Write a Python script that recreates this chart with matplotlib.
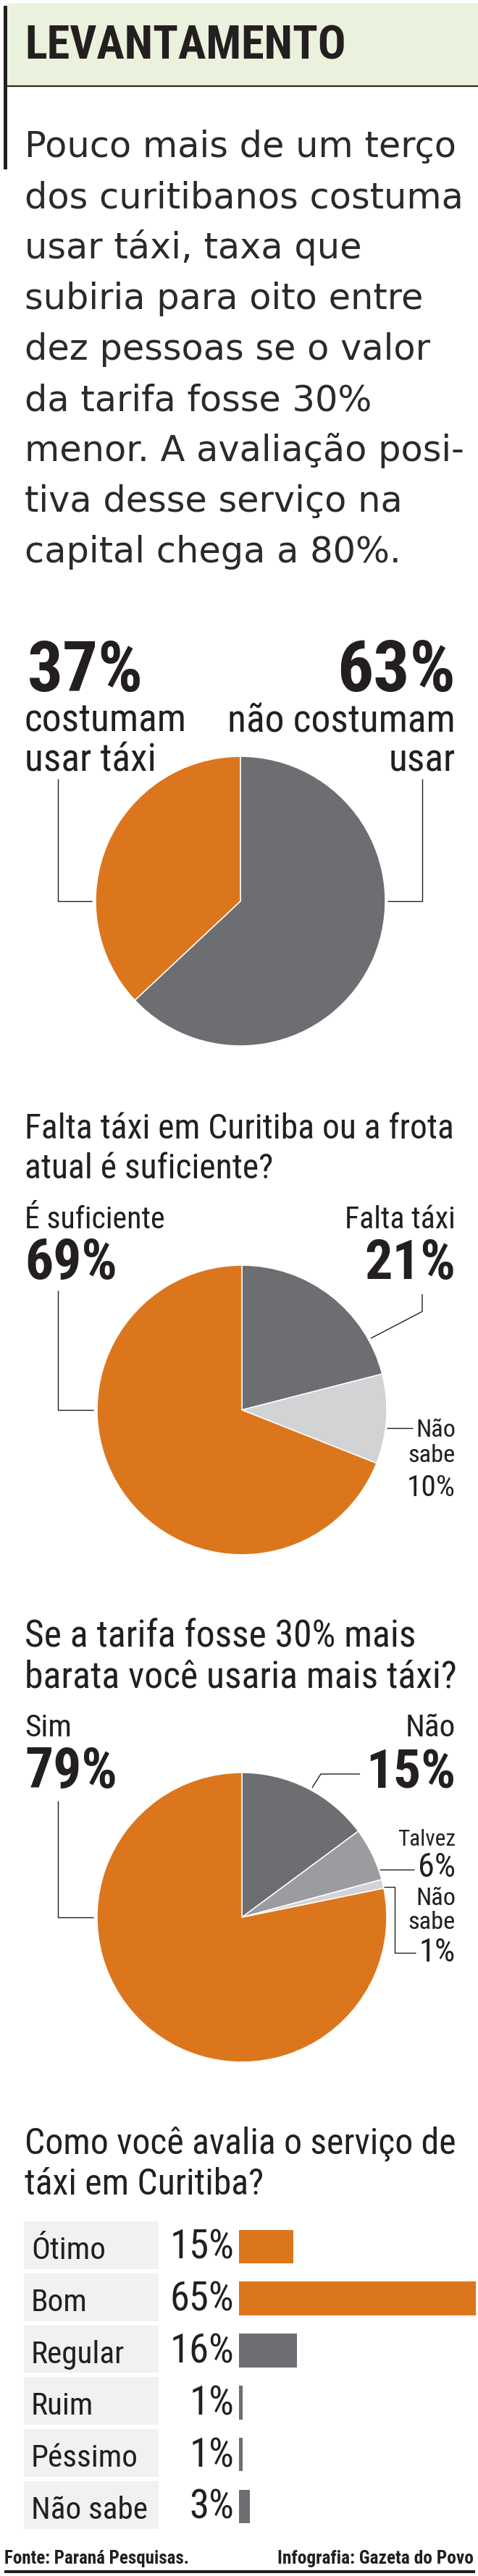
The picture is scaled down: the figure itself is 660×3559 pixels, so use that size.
import os
import matplotlib
matplotlib.use('Agg')
import matplotlib.pyplot as plt
from matplotlib import font_manager
from matplotlib.font_manager import FontProperties
from matplotlib.patches import Rectangle

W, H, DPI = 660, 3559, 100

INK = '#231f20'
ORANGE = '#dc761d'
DARK = '#6d6e71'
MID = '#9b9c9f'
LIGHT = '#d1d3d4'

# dados
title = 'LEVANTAMENTO'
intro = ['Pouco mais de um terço',
         'dos curitibanos costuma',
         'usar táxi, taxa que',
         'subiria para oito entre',
         'dez pessoas se o valor',
         'da tarifa fosse 30%',
         'menor. A avaliação posi-',
         'tiva desse serviço na',
         'capital chega a 80%.']

pie1_labels = ['não costumam', 'costumam']
pie1_values = [63, 37]
pie1_colors = [DARK, ORANGE]

q2 = ['Falta táxi em Curitiba ou a frota', 'atual é suficiente?']
pie2_labels = ['Falta táxi', 'Não sabe', 'É suficiente']
pie2_values = [21, 10, 69]
pie2_colors = [DARK, LIGHT, ORANGE]

q3 = ['Se a tarifa fosse 30% mais', 'barata você usaria mais táxi?']
pie3_labels = ['Não', 'Talvez', 'Não sabe', 'Sim']
pie3_values = [15, 6, 1, 79]
pie3_colors = [DARK, MID, LIGHT, ORANGE]

q4 = ['Como você avalia o serviço de', 'táxi em Curitiba?']
bar_labels = ['Ótimo', 'Bom', 'Regular', 'Ruim', 'Péssimo', 'Não sabe']
bar_values = [15, 65, 16, 1, 1, 3]
bar_colors = [ORANGE, ORANGE, DARK, DARK, DARK, DARK]

fonte = 'Fonte: Paraná Pesquisas.'
credito = 'Infografia: Gazeta do Povo'


# procura uma fonte condensada instalada
PREFS = ['RobotoCondensed', 'LiberationSansNarrow', 'NotoSansSemiCondensed',
         'NotoSansCondensed', 'OpenSansSemiCondensed', 'OpenSansCondensed',
         'DejaVuSansCondensed']


def pick(lo, hi):
    found = []
    for f in font_manager.fontManager.ttflist:
        base = os.path.basename(f.fname)
        tag = (f.name + base).replace(' ', '').replace('_', '').replace('-', '')
        if f.style != 'normal' or 'Italic' in base or 'Oblique' in base:
            continue
        cond = ('Condensed' in tag or 'Narrow' in tag
                or str(f.stretch) in ('condensed', 'semi-condensed'))
        if not cond or 'Extra' in tag or 'Ultra' in tag or '[' in base:
            continue
        w = f.weight if isinstance(f.weight, int) else font_manager.weight_dict.get(f.weight, 400)
        if lo <= w <= hi:
            rank = next((i for i, p in enumerate(PREFS) if p in tag), len(PREFS))
            found.append((rank, abs(w - (lo + hi) / 2), f.fname))
    return sorted(found)[0][2] if found else None


REG = pick(400, 420)
BOLD = pick(650, 750)
CONDENSED = REG is not None and BOLD is not None

fig = plt.figure(figsize=(W / DPI, H / DPI), dpi=DPI)
fig.patch.set_facecolor('white')
renderer = fig.canvas.get_renderer()


def props(kind):
    if kind == 'body':
        return FontProperties(family='DejaVu Sans')
    if CONDENSED:
        return FontProperties(fname=BOLD if kind == 'bold' else REG)
    if kind == 'bold':
        return FontProperties(family='Roboto', weight='bold')
    if kind == 'medium':
        return FontProperties(family='Roboto', weight='medium')
    return FontProperties(family='Roboto')


def put(x, y, s, width=None, cap=None, size=20, ha='left', kind='reg', color=INK):
    fp = props(kind)
    if cap:
        size = cap / 0.71 * 72 / DPI
    fp.set_size(size)
    t = fig.text(x / W, 1 - y / H, s, ha=ha, va='baseline', fontproperties=fp,
                 color=color, zorder=5)
    if width:
        for _ in range(2):
            w = t.get_window_extent(renderer).width
            if cap is None or CONDENSED:
                t.set_fontsize(t.get_fontsize() * width / w)
            elif w > width * 1.06:
                t.set_fontsize(t.get_fontsize() * width * 1.06 / w)
    return t


# camada de fundo em pixels
ov = fig.add_axes([0, 0, 1, 1], zorder=0)
ov.set_xlim(0, W)
ov.set_ylim(H, 0)
ov.axis('off')


def line(xs, ys):
    ov.plot(xs, ys, color=INK, lw=1.0, solid_capstyle='butt', zorder=1)


# cabeçalho
ov.add_patch(Rectangle((10, 5), 650, 114, color='#eaf1dc', lw=0))
ov.plot([10, 660], [119.5, 119.5], color='#2b2b2b', lw=1.6)
ov.add_patch(Rectangle((5, 8), 5, 226, color=INK, lw=0))
put(34, 81, title, width=444, kind='bold')

# texto de abertura
t0 = put(34, 217, intro[0], width=595, kind='body', color='#2a2a2a')
for i, s in enumerate(intro[1:], start=1):
    put(34, 217 + 70 * i, s, size=t0.get_fontsize(), kind='body', color='#2a2a2a')


def pie_at(cx, cy, r, values, colors):
    ax = fig.add_axes([(cx - r) / W, 1 - (cy + r) / H, 2 * r / W, 2 * r / H], zorder=2)
    ax.pie(values, colors=colors, startangle=90, counterclock=False, radius=1,
           wedgeprops=dict(edgecolor='white', linewidth=1.1))
    ax.set_xlim(-1, 1)
    ax.set_ylim(-1, 1)
    ax.axis('off')
    return ax


# pizza 1
pie_at(332, 1245, 200, pie1_values, pie1_colors)
put(38, 955, f'{pie1_values[1]}%', width=160, cap=65, kind='bold')
put(629, 955, f'{pie1_values[0]}%', width=164, cap=65, kind='bold', ha='right')
lab = put(314, 1010, pie1_labels[0], width=315)
fs = lab.get_fontsize()
put(34, 1010, pie1_labels[1], size=fs)
put(34, 1065, 'usar táxi', size=fs)
put(629, 1065, 'usar', size=fs, ha='right')
line([80, 80, 127], [1076, 1245, 1245])
line([583, 583, 535], [1076, 1245, 1245])

# pizza 2
tq = put(34, 1573, q2[0], width=593, kind='medium')
put(34, 1628, q2[1], size=tq.get_fontsize(), kind='medium')
pie_at(334, 1948, 200, pie2_values, pie2_colors)
l2 = put(34, 1697, pie2_labels[2], width=193)
put(629, 1697, pie2_labels[0], size=l2.get_fontsize(), ha='right')
put(34, 1767, f'{pie2_values[2]}%', width=128, cap=51, kind='bold')
put(629, 1767, f'{pie2_values[0]}%', width=126, cap=51, kind='bold', ha='right')
ns = put(629, 1985, 'Não', width=55, ha='right')
put(629, 2020, 'sabe', size=ns.get_fontsize(), ha='right')
put(629, 2067, f'{pie2_values[1]}%', width=67, cap=26, ha='right')
line([80, 80, 129], [1783, 1948, 1948])
line([583, 583, 512], [1788, 1812, 1849])
line([534, 570], [1973, 1973])

# pizza 3
tq = put(34, 2275, q3[0], width=541, kind='medium')
put(34, 2332, q3[1], size=tq.get_fontsize(), kind='medium')
pie_at(334, 2649, 200, pie3_values, pie3_colors)
l3 = put(34, 2399, pie3_labels[3], width=65)
put(629, 2399, pie3_labels[0], size=l3.get_fontsize(), ha='right')
put(34, 2470, f'{pie3_values[3]}%', width=128, cap=51, kind='bold')
put(629, 2470, f'{pie3_values[0]}%', width=124, cap=51, kind='bold', ha='right')
put(629, 2550, pie3_labels[1], width=80, ha='right')
put(629, 2593, f'{pie3_values[1]}%', width=52, cap=25, ha='right')
put(629, 2632, 'Não', size=ns.get_fontsize(), ha='right')
put(629, 2665, 'sabe', size=ns.get_fontsize(), ha='right')
put(629, 2710, f'{pie3_values[2]}%', width=50, cap=25, ha='right')
line([80, 80, 129], [2488, 2649, 2649])
line([431, 443, 497], [2470, 2451, 2451])
line([524, 572], [2583, 2583])
line([529, 545, 545, 574], [2607, 2607, 2698, 2698])

# barras
tq = put(34, 2975, q4[0], width=595, kind='medium')
put(34, 3032, q4[1], size=tq.get_fontsize(), kind='medium')

row_top, pitch = 3068, 71.8
n = len(bar_values)
for i in range(n):
    ov.add_patch(Rectangle((33, row_top + i * pitch + 1), 186, pitch - 6,
                           color='#f1f2ef', lw=0))

bx = fig.add_axes([330 / W, 1 - (row_top + n * pitch) / H, 330 / W, n * pitch / H], zorder=2)
bx.barh(range(n), bar_values, height=0.65, color=bar_colors)
bx.set_xlim(0, 65.6)
bx.set_ylim(n - 0.5, -0.5)
bx.axis('off')

lb = put(43, row_top + 5.5 * pitch + 17, bar_labels[-1], width=161)
pc = put(323, row_top + 1.5 * pitch + 17, f'{bar_values[1]}%', width=89, cap=32, ha='right')
for i, (s, v) in enumerate(zip(bar_labels, bar_values)):
    yb = row_top + (i + 0.5) * pitch + 17
    if i != n - 1:
        put(43, yb, s, size=lb.get_fontsize())
    if i != 1:
        put(323, yb, f'{v}%', size=pc.get_fontsize(), ha='right')

# rodapé
put(6, 3542, fonte, width=255, kind='bold')
put(654, 3542, credito, width=271, kind='bold', ha='right')
ov.add_patch(Rectangle((6, 3550.5), 650, 4.5, color=INK, lw=0))

fig.savefig('out.png', dpi=DPI, facecolor='white')
